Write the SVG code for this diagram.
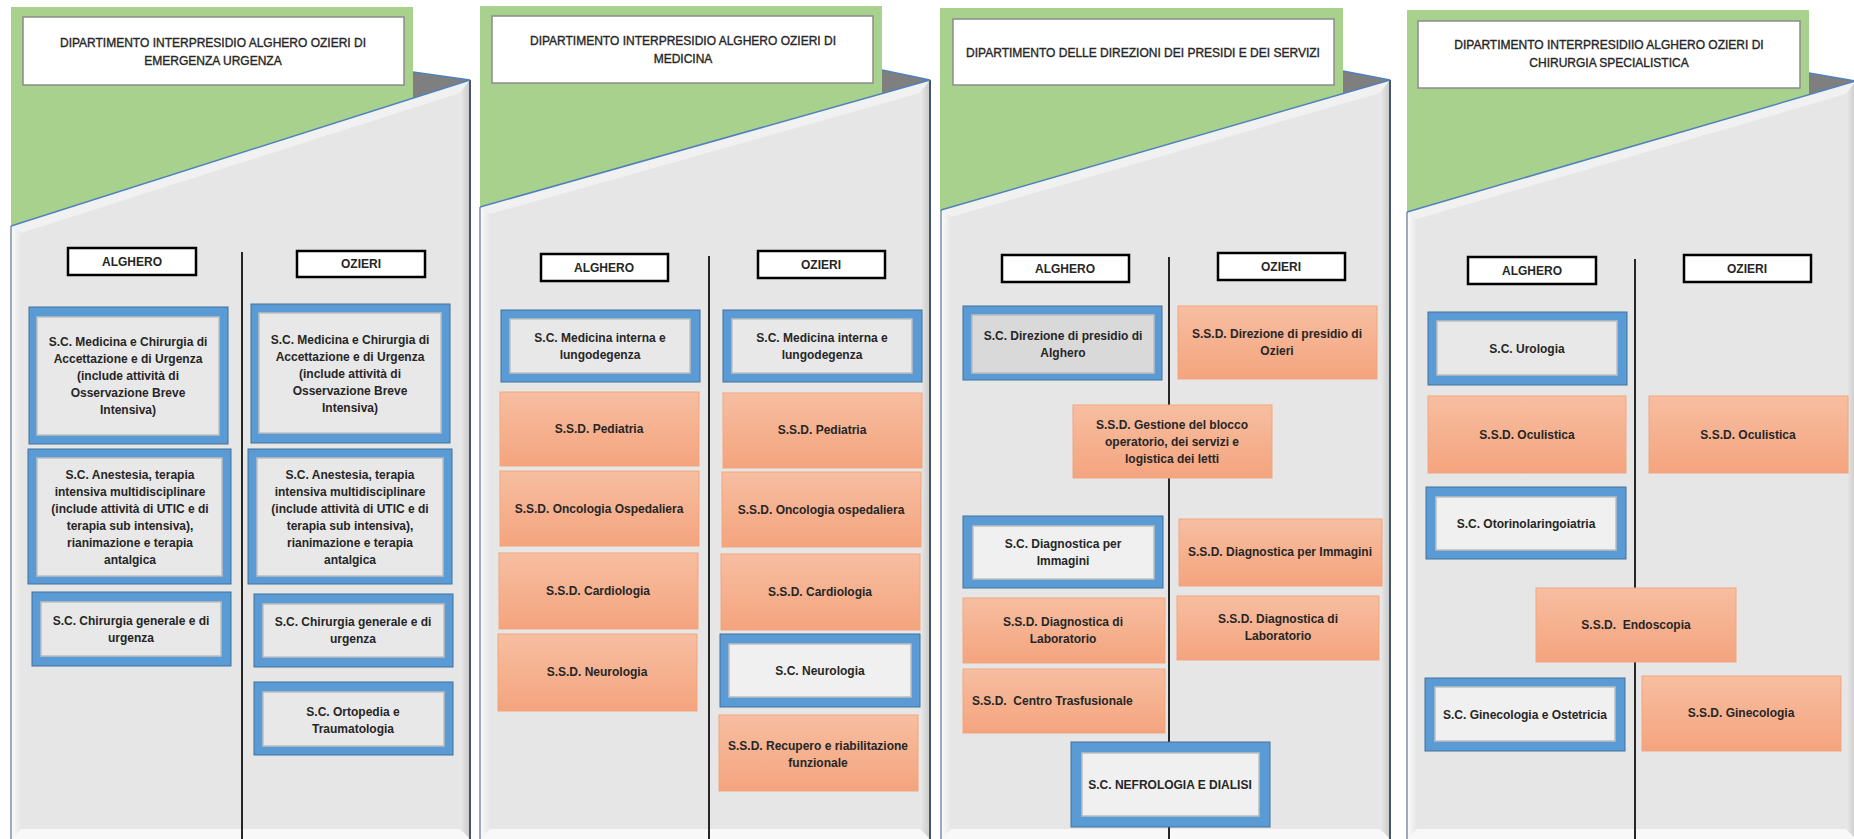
<svg xmlns="http://www.w3.org/2000/svg" width="1854" height="839" viewBox="0 0 1854 839">
<defs>
<linearGradient id="og" x1="0" y1="0" x2="0" y2="1"><stop offset="0" stop-color="#f7bea1"/><stop offset="1" stop-color="#f4a47e"/></linearGradient>
<linearGradient id="bevL" x1="0" y1="0" x2="1" y2="0"><stop offset="0" stop-color="#fbfbfb"/><stop offset="1" stop-color="#e6e6e6"/></linearGradient>
<linearGradient id="bevR" x1="0" y1="0" x2="1" y2="0"><stop offset="0" stop-color="#eaeaea"/><stop offset="1" stop-color="#c9c9c9"/></linearGradient>
</defs>
<style>
.green{fill:#a9d18e}
.fold{fill:#7f7f7f}
.panel{fill:#e6e6e6}
.bl{fill:url(#bevL)}
.br{fill:url(#bevR)}
.bt{fill:#f1f1f1}
.bb{fill:#f8f8f8}
.eL{stroke:#7d8fa8;stroke-width:1.5;fill:none}
.eR{stroke:#44546a;stroke-width:2;fill:none}
.eD{stroke:#4f81bd;stroke-width:1.5;fill:none}
.ttl{fill:#fff;stroke:#8c8c8c;stroke-width:1.5}
.loc{fill:#fff;stroke:#000;stroke-width:2.5}
.sco{fill:#5b9bd5;stroke:#41719c;stroke-width:1}
.sci{fill:#e8e8e8;stroke:#bfbfbf;stroke-width:1.5}
.scl{fill:#f0f0f0;stroke:#bfbfbf;stroke-width:1.5}
.scd{fill:#d9d9d9;stroke:#bfbfbf;stroke-width:1.5}
.ssd{fill:url(#og);stroke:#f3a57c;stroke-width:1}
.div{stroke:#262626;stroke-width:2;fill:none}
text{font-family:"Liberation Sans",Arial,sans-serif;font-size:12px;fill:#262626;text-anchor:middle;font-weight:bold}
text.h{font-weight:normal;stroke:#262626;stroke-width:0.35}
</style>

<!-- Panels -->
<g id="panel-emergenza">
<rect class="green" x="11" y="7" width="402" height="221"/>
<polygon class="fold" points="413,72 470,80 413,98"/>
<line class="eD" x1="413" y1="72" x2="470" y2="80"/>
<polygon class="panel" points="11,226 470,80 470,839 11,839"/>
<polygon class="bt" points="11,226 470,80 460,93 21,233"/>
<polygon class="bl" points="11,226 21,233 21,829 11,839"/>
<polygon class="br" points="470,80 470,839 460,829 460,93"/>
<polygon class="bb" points="11,839 21,829 460,829 470,839"/>
<line class="eL" x1="11" y1="226" x2="11" y2="839"/>
<line class="eR" x1="470" y1="80" x2="470" y2="839"/>
<line class="eD" x1="11" y1="226" x2="470" y2="80"/>
</g>
<g id="panel-medicina">
<rect class="green" x="480" y="6" width="402" height="203"/>
<polygon class="fold" points="882,70 930,80 882,94"/>
<line class="eD" x1="882" y1="70" x2="930" y2="80"/>
<polygon class="panel" points="480,207 930,80 930,839 480,839"/>
<polygon class="bt" points="480,207 930,80 920,93 490,214"/>
<polygon class="bl" points="480,207 490,214 490,829 480,839"/>
<polygon class="br" points="930,80 930,839 920,829 920,93"/>
<polygon class="bb" points="480,839 490,829 920,829 930,839"/>
<line class="eL" x1="480" y1="207" x2="480" y2="839"/>
<line class="eR" x1="930" y1="80" x2="930" y2="839"/>
<line class="eD" x1="480" y1="207" x2="930" y2="80"/>
</g>
<g id="panel-direzioni">
<rect class="green" x="940" y="8" width="403" height="204"/>
<polygon class="fold" points="1343,71 1390,80 1343,94"/>
<line class="eD" x1="1343" y1="71" x2="1390" y2="80"/>
<polygon class="panel" points="941,210 1390,80 1390,839 941,839"/>
<polygon class="bt" points="941,210 1390,80 1380,93 951,217"/>
<polygon class="bl" points="941,210 951,217 951,829 941,839"/>
<polygon class="br" points="1390,80 1390,839 1380,829 1380,93"/>
<polygon class="bb" points="941,839 951,829 1380,829 1390,839"/>
<line class="eL" x1="941" y1="210" x2="941" y2="839"/>
<line class="eR" x1="1390" y1="80" x2="1390" y2="839"/>
<line class="eD" x1="941" y1="210" x2="1390" y2="80"/>
</g>
<g id="panel-chirurgia">
<rect class="green" x="1407" y="10" width="402" height="204"/>
<polygon class="fold" points="1809,73 1856,81 1809,95"/>
<line class="eD" x1="1809" y1="73" x2="1856" y2="81"/>
<polygon class="panel" points="1407,212 1856,81 1856,839 1407,839"/>
<polygon class="bt" points="1407,212 1856,81 1846,94 1417,219"/>
<polygon class="bl" points="1407,212 1417,219 1417,829 1407,839"/>
<polygon class="br" points="1856,81 1856,839 1846,829 1846,94"/>
<polygon class="bb" points="1407,839 1417,829 1846,829 1856,839"/>
<line class="eL" x1="1407" y1="212" x2="1407" y2="839"/>
<line class="eD" x1="1407" y1="212" x2="1856" y2="81"/>
</g>

<!-- Connectors (column dividers) -->
<g id="connectors">
<line class="div" x1="242" y1="252" x2="242" y2="839"/>
<line class="div" x1="709" y1="256" x2="709" y2="839"/>
<line class="div" x1="1169" y1="257" x2="1169" y2="839"/>
<line class="div" x1="1635" y1="259" x2="1635" y2="839"/>
</g>

<!-- Panel 1 nodes -->
<g id="title-emergenza"><rect class="ttl" x="23" y="17" width="381" height="68"/>
<text class="h" x="213" y="47">DIPARTIMENTO INTERPRESIDIO ALGHERO OZIERI DI</text>
<text class="h" x="213" y="65">EMERGENZA URGENZA</text></g>
<g id="p1-alghero"><rect class="loc" x="68" y="248" width="128" height="27"/><text x="132" y="266">ALGHERO</text></g>
<g id="p1-ozieri"><rect class="loc" x="297" y="251" width="128" height="26"/><text x="361" y="268">OZIERI</text></g>
<g id="p1-a-mecau"><rect class="sco" x="29" y="307" width="199" height="137"/><rect class="sci" x="37" y="317" width="182" height="118"/>
<text x="128" y="346">S.C. Medicina e Chirurgia di</text><text x="128" y="363">Accettazione e di Urgenza</text><text x="128" y="380">(include attività di</text><text x="128" y="397">Osservazione Breve</text><text x="128" y="414">Intensiva)</text></g>
<g id="p1-o-mecau"><rect class="sco" x="251" y="304" width="199" height="139"/><rect class="sci" x="259" y="313" width="182" height="120"/>
<text x="350" y="344">S.C. Medicina e Chirurgia di</text><text x="350" y="361">Accettazione e di Urgenza</text><text x="350" y="378">(include attività di</text><text x="350" y="395">Osservazione Breve</text><text x="350" y="412">Intensiva)</text></g>
<g id="p1-a-anest"><rect class="sco" x="28" y="449" width="203" height="135"/><rect class="sci" x="37" y="458" width="185" height="118"/>
<text x="130" y="479">S.C. Anestesia, terapia</text><text x="130" y="496">intensiva multidisciplinare</text><text x="130" y="513">(include attività di UTIC e di</text><text x="130" y="530">terapia sub intensiva),</text><text x="130" y="547">rianimazione e terapia</text><text x="130" y="564">antalgica</text></g>
<g id="p1-o-anest"><rect class="sco" x="248" y="449" width="204" height="135"/><rect class="sci" x="257" y="458" width="186" height="118"/>
<text x="350" y="479">S.C. Anestesia, terapia</text><text x="350" y="496">intensiva multidisciplinare</text><text x="350" y="513">(include attività di UTIC e di</text><text x="350" y="530">terapia sub intensiva),</text><text x="350" y="547">rianimazione e terapia</text><text x="350" y="564">antalgica</text></g>
<g id="p1-a-chir"><rect class="sco" x="32" y="592" width="199" height="74"/><rect class="sci" x="41" y="602" width="180" height="54"/>
<text x="131" y="625">S.C. Chirurgia generale e di</text><text x="131" y="642">urgenza</text></g>
<g id="p1-o-chir"><rect class="sco" x="254" y="594" width="199" height="73"/><rect class="sci" x="263" y="604" width="181" height="53"/>
<text x="353" y="626">S.C. Chirurgia generale e di</text><text x="353" y="643">urgenza</text></g>
<g id="p1-o-orto"><rect class="sco" x="254" y="682" width="199" height="73"/><rect class="sci" x="263" y="692" width="181" height="54"/>
<text x="353" y="716">S.C. Ortopedia e</text><text x="353" y="733">Traumatologia</text></g>

<!-- Panel 2 nodes -->
<g id="title-medicina"><rect class="ttl" x="492" y="16" width="381" height="67"/>
<text class="h" x="683" y="45">DIPARTIMENTO INTERPRESIDIO ALGHERO OZIERI DI</text>
<text class="h" x="683" y="63">MEDICINA</text></g>
<g id="p2-alghero"><rect class="loc" x="541" y="254" width="127" height="27"/><text x="604" y="272">ALGHERO</text></g>
<g id="p2-ozieri"><rect class="loc" x="758" y="251" width="127" height="27"/><text x="821" y="269">OZIERI</text></g>
<g id="p2-a-medint"><rect class="sco" x="501" y="310" width="199" height="72"/><rect class="sci" x="510" y="319" width="180" height="54"/>
<text x="600" y="342">S.C. Medicina interna e</text><text x="600" y="359">lungodegenza</text></g>
<g id="p2-o-medint"><rect class="sco" x="723" y="310" width="199" height="72"/><rect class="sci" x="732" y="319" width="180" height="54"/>
<text x="822" y="342">S.C. Medicina interna e</text><text x="822" y="359">lungodegenza</text></g>
<g id="p2-a-ped"><rect class="ssd" x="500" y="392" width="199" height="74"/><text x="599" y="433">S.S.D. Pediatria</text></g>
<g id="p2-o-ped"><rect class="ssd" x="723" y="393" width="199" height="75"/><text x="822" y="434">S.S.D. Pediatria</text></g>
<g id="p2-a-onc"><rect class="ssd" x="500" y="471" width="199" height="75"/><text x="599" y="513">S.S.D. Oncologia Ospedaliera</text></g>
<g id="p2-o-onc"><rect class="ssd" x="722" y="472" width="199" height="75"/><text x="821" y="514">S.S.D. Oncologia ospedaliera</text></g>
<g id="p2-a-card"><rect class="ssd" x="499" y="553" width="199" height="76"/><text x="598" y="595">S.S.D. Cardiologia</text></g>
<g id="p2-o-card"><rect class="ssd" x="721" y="554" width="199" height="76"/><text x="820" y="596">S.S.D. Cardiologia</text></g>
<g id="p2-a-neuro"><rect class="ssd" x="498" y="634" width="199" height="77"/><text x="597" y="676">S.S.D. Neurologia</text></g>
<g id="p2-o-neuro"><rect class="sco" x="720" y="634" width="200" height="73"/><rect class="scl" x="729" y="644" width="182" height="53"/><text x="820" y="675">S.C. Neurologia</text></g>
<g id="p2-o-recup"><rect class="ssd" x="719" y="715" width="199" height="76"/>
<text x="818" y="750">S.S.D. Recupero e riabilitazione</text><text x="818" y="767">funzionale</text></g>

<!-- Panel 3 nodes -->
<g id="title-direzioni"><rect class="ttl" x="953" y="19" width="381" height="66"/>
<text class="h" x="1143" y="57">DIPARTIMENTO DELLE DIREZIONI DEI PRESIDI E DEI SERVIZI</text></g>
<g id="p3-alghero"><rect class="loc" x="1002" y="255" width="127" height="27"/><text x="1065" y="273">ALGHERO</text></g>
<g id="p3-ozieri"><rect class="loc" x="1218" y="253" width="127" height="27"/><text x="1281" y="271">OZIERI</text></g>
<g id="p3-a-dir"><rect class="sco" x="963" y="306" width="199" height="74"/><rect class="scd" x="972" y="315" width="182" height="58"/>
<text x="1063" y="340">S.C. Direzione di presidio di</text><text x="1063" y="357">Alghero</text></g>
<g id="p3-o-dir"><rect class="ssd" x="1178" y="306" width="199" height="73"/>
<text x="1277" y="338">S.S.D. Direzione di presidio di</text><text x="1277" y="355">Ozieri</text></g>
<g id="p3-gest"><rect class="ssd" x="1073" y="405" width="199" height="73"/>
<text x="1172" y="429">S.S.D. Gestione del blocco</text><text x="1172" y="446">operatorio, dei servizi e</text><text x="1172" y="463">logistica dei letti</text></g>
<g id="p3-a-diag"><rect class="sco" x="963" y="516" width="200" height="72"/><rect class="scl" x="973" y="526" width="181" height="53"/>
<text x="1063" y="548">S.C. Diagnostica per</text><text x="1063" y="565">Immagini</text></g>
<g id="p3-o-diag"><rect class="ssd" x="1179" y="519" width="203" height="67"/><text x="1280" y="556">S.S.D. Diagnostica per Immagini</text></g>
<g id="p3-a-lab"><rect class="ssd" x="963" y="598" width="202" height="65"/>
<text x="1063" y="626">S.S.D. Diagnostica di</text><text x="1063" y="643">Laboratorio</text></g>
<g id="p3-o-lab"><rect class="ssd" x="1177" y="596" width="202" height="64"/>
<text x="1278" y="623">S.S.D. Diagnostica di</text><text x="1278" y="640">Laboratorio</text></g>
<g id="p3-a-trasf"><rect class="ssd" x="963" y="669" width="202" height="64"/>
<text x="972" y="705" style="text-anchor:start">S.S.D.&#160; Centro Trasfusionale</text></g>
<g id="p3-nefro"><rect class="sco" x="1071" y="742" width="199" height="85"/><rect class="scl" x="1082" y="753" width="177" height="63"/>
<text x="1170" y="789">S.C. NEFROLOGIA E DIALISI</text></g>

<!-- Panel 4 nodes -->
<g id="title-chirurgia"><rect class="ttl" x="1418" y="21" width="382" height="67"/>
<text class="h" x="1609" y="49">DIPARTIMENTO INTERPRESIDIIO ALGHERO OZIERI DI</text>
<text class="h" x="1609" y="67">CHIRURGIA SPECIALISTICA</text></g>
<g id="p4-alghero"><rect class="loc" x="1468" y="257" width="128" height="27"/><text x="1532" y="275">ALGHERO</text></g>
<g id="p4-ozieri"><rect class="loc" x="1684" y="255" width="127" height="27"/><text x="1747" y="273">OZIERI</text></g>
<g id="p4-a-uro"><rect class="sco" x="1428" y="312" width="199" height="73"/><rect class="sci" x="1437" y="321" width="180" height="54"/>
<text x="1527" y="353">S.C. Urologia</text></g>
<g id="p4-a-ocu"><rect class="ssd" x="1428" y="396" width="198" height="77"/><text x="1527" y="439">S.S.D. Oculistica</text></g>
<g id="p4-o-ocu"><rect class="ssd" x="1649" y="396" width="199" height="77"/><text x="1748" y="439">S.S.D. Oculistica</text></g>
<g id="p4-a-oto"><rect class="sco" x="1426" y="487" width="200" height="72"/><rect class="scl" x="1436" y="497" width="180" height="53"/>
<text x="1526" y="528">S.C. Otorinolaringoiatria</text></g>
<g id="p4-endo"><rect class="ssd" x="1536" y="588" width="200" height="74"/><text x="1636" y="629">S.S.D.&#160; Endoscopia</text></g>
<g id="p4-a-gin"><rect class="sco" x="1425" y="678" width="200" height="73"/><rect class="scl" x="1435" y="687" width="180" height="54"/>
<text x="1525" y="719">S.C. Ginecologia e Ostetricia</text></g>
<g id="p4-o-gin"><rect class="ssd" x="1642" y="676" width="199" height="75"/><text x="1741" y="717">S.S.D. Ginecologia</text></g>
</svg>
